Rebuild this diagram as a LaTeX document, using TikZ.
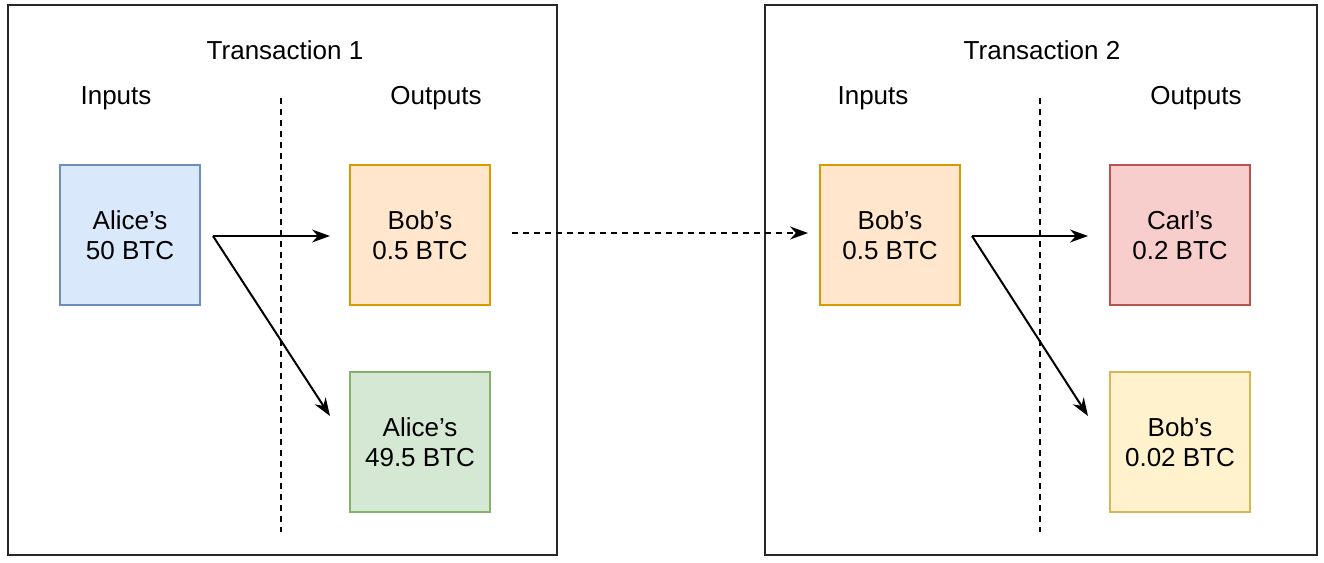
\documentclass[tikz,border=0pt]{standalone}
\usepackage{fontspec}
\defaultfontfeatures{}
\setmainfont{Liberation Sans}[Ligatures=ResetAll]
\usetikzlibrary{arrows.meta}
\definecolor{bF}{HTML}{DAE8FC}\definecolor{bD}{HTML}{6C8EBF}
\definecolor{oF}{HTML}{FFE6CC}\definecolor{oD}{HTML}{D79B00}
\definecolor{gF}{HTML}{D5E8D4}\definecolor{gD}{HTML}{82B366}
\definecolor{rF}{HTML}{F8CECC}\definecolor{rD}{HTML}{B85450}
\definecolor{yF}{HTML}{FFF2CC}\definecolor{yD}{HTML}{D6B656}
\begin{document}
\begin{tikzpicture}[x=1pt,y=-1pt,
  every node/.style={font=\fontsize{26}{30}\selectfont},
  frame/.style={draw=black!85,line width=1.6pt},
  coin/.style={minimum width=140pt,minimum height=140pt,line width=1.5pt,align=center,inner sep=0pt},
  lbl/.style={anchor=center},
  sep/.style={line width=1.8pt,dash pattern=on 6pt off 5pt},
  arr/.style={-{Stealth[length=18pt,width=13pt]},line width=2pt}]
\useasboundingbox (0,0) rectangle (1324,562);
\node[frame,draw,minimum width=549pt,minimum height=550pt,inner sep=0pt] (T1) at (282.5,280) {};
\node[frame,draw,minimum width=552pt,minimum height=550pt,inner sep=0pt] (T2) at (1041,280) {};
\node[lbl] (t1) at (285,50) {Transaction 1};
\node[lbl] (i1) at (116,98) {Inputs};
\node[lbl] (o1) at (436,98) {Outputs};
\node[lbl] (t2) at (1042,50) {Transaction 2};
\node[lbl] (i2) at (873,98) {Inputs};
\node[lbl] (o2) at (1196,98) {Outputs};
\coordinate (s1a) at (281,98); \coordinate (s1b) at (281,532);
\coordinate (s2a) at (1040,98); \coordinate (s2b) at (1040,532);
\draw[sep] (s1a) -- (s1b);
\draw[sep] (s2a) -- (s2b);
\node[coin,draw=bD,fill=bF] (a) at (130,235) {Alice's\\50 BTC};
\node[coin,draw=oD,fill=oF] (b) at (420,235) {Bob's\\0.5 BTC};
\node[coin,draw=gD,fill=gF] (c) at (420,442) {Alice's\\49.5 BTC};
\node[coin,draw=oD,fill=oF] (d) at (890,235) {Bob's\\0.5 BTC};
\node[coin,draw=rD,fill=rF] (e) at (1180,235) {Carl's\\0.2 BTC};
\node[coin,draw=yD,fill=yF] (f) at (1180,442) {Bob's\\0.02 BTC};
\coordinate (p1) at (213,236); \coordinate (q1) at (330,236); \coordinate (r1) at (330,416);
\coordinate (p2) at (972,236); \coordinate (q2) at (1088,236); \coordinate (r2) at (1088,416);
\coordinate (m1) at (512,233); \coordinate (m2) at (808,233);
\draw[arr] (p1) -- (q1);
\draw[arr] (p1) -- (r1);
\draw[arr] (p2) -- (q2);
\draw[arr] (p2) -- (r2);
\draw[arr,sep] (m1) -- (m2);
\end{tikzpicture}
\end{document}
